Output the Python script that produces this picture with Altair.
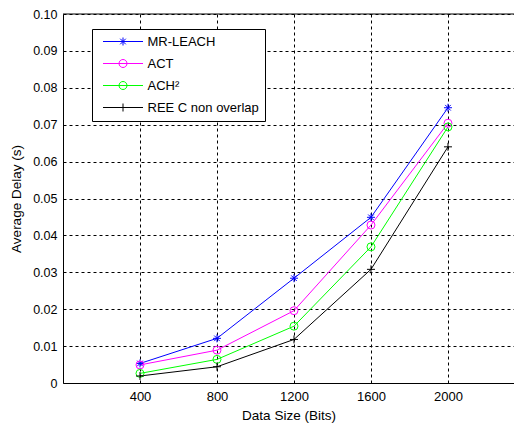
import altair as alt
import pandas as pd

data_size = [400, 800, 1200, 1600, 2000]
mr_leach = [0.0053, 0.0121, 0.0284, 0.0449, 0.0746]
act = [0.0049, 0.0089, 0.0196, 0.0428, 0.0704]
ach2 = [0.0026, 0.0064, 0.0154, 0.0369, 0.0694]
reec = [0.0019, 0.0044, 0.0118, 0.0308, 0.0640]
series_names = ["MR-LEACH", "ACT", "ACH²", "REE C non overlap"]
series_colors = ["#0000ff", "#ff00ff", "#00ff00", "#000000"]
x_ticks = [400, 800, 1200, 1600, 2000]
y_ticks = [0, 0.01, 0.02, 0.03, 0.04, 0.05, 0.06, 0.07, 0.08, 0.09, 0.10]

rows = []
for name, vals in zip(series_names, [mr_leach, act, ach2, reec]):
    for xv, yv in zip(data_size, vals):
        rows.append({"size": xv, "delay": yv, "series": name})
df = pd.DataFrame(rows)

FONT = "Liberation Sans"
W, H = 451, 369

STAR = "M-1,0L1,0M0,-1L0,1M-0.7,-0.7L0.7,0.7M-0.7,0.7L0.7,-0.7"
PLUS = "M-1,0L1,0M0,-1L0,1"
LEG_STAR = "M-5,0L5,0M0,-1L0,1M-0.7,-0.7L0.7,0.7M-0.7,0.7L0.7,-0.7"
LEG_CIRCLE = "M-5,0L5,0M1,0A1,1 0 1,1 -1,0A1,1 0 1,1 1,0"
LEG_PLUS = "M-5,0L5,0M0,-1L0,1"

color_scale = alt.Scale(domain=series_names, range=series_colors)

x_enc = alt.X("size:Q", scale=alt.Scale(domain=[0, 2343], nice=False, zero=False),
              axis=alt.Axis(values=x_ticks, format="d", title="Data Size (Bits)", grid=True,
                            gridDash=[3, 3], gridColor="black", gridOpacity=1, gridWidth=1,
                            tickSize=0, labelPadding=7, domainColor="black", domainWidth=1,
                            labelFont=FONT, labelFontSize=13, labelColor="black",
                            titleFont=FONT, titleFontSize=13.5, titleFontWeight="normal",
                            titleColor="black", titlePadding=5, labelFlush=False))
y_enc = alt.Y("delay:Q", scale=alt.Scale(domain=[0, 0.1], nice=False),
              axis=alt.Axis(values=y_ticks, title="Average Delay (s)", grid=True,
                            gridDash=[3, 3], gridColor="black", gridOpacity=1, gridWidth=1,
                            tickSize=0, labelPadding=6, domainColor="black", domainWidth=1,
                            labelExpr="datum.value == 0 ? '0' : format(datum.value, '.2f')",
                            labelFont=FONT, labelFontSize=12.5, labelColor="black",
                            titleFont=FONT, titleFontSize=13.5, titleFontWeight="normal",
                            titleColor="black", titlePadding=9, labelFlush=False))

base = alt.Chart(df).encode(x=x_enc, y=y_enc)

lines = base.mark_line(strokeWidth=1).encode(
    color=alt.Color("series:N", scale=color_scale, legend=None))

points = base.mark_point(filled=False, size=64, strokeWidth=1, opacity=1).encode(
    color=alt.Color("series:N", scale=color_scale, legend=None),
    shape=alt.Shape("series:N", scale=alt.Scale(domain=series_names,
                                                range=[STAR, "circle", "circle", PLUS]),
                    legend=None))

leg = alt.Legend(orient="none", legendX=29, legendY=15, title=None,
                 strokeColor="black", fillColor="white", padding=6, cornerRadius=0,
                 symbolSize=64, symbolOffset=18.5, labelOffset=18, symbolStrokeWidth=1,
                 symbolOpacity=1, labelFont=FONT, labelFontSize=13, labelColor="black",
                 rowPadding=8)

legend_layer = base.mark_point(filled=False, opacity=0, strokeWidth=1).encode(
    color=alt.Color("series:N", scale=color_scale, legend=leg),
    shape=alt.Shape("series:N", scale=alt.Scale(domain=series_names,
                                                range=[LEG_STAR, LEG_CIRCLE, LEG_CIRCLE, LEG_PLUS]),
                    legend=leg))

frame = alt.Chart(pd.DataFrame({"a": [0]})).mark_rule(color="black", strokeWidth=1).encode(
    x=alt.value(0), x2=alt.value(W), y=alt.value(0))

chart = alt.layer(lines, points, legend_layer, frame).resolve_scale(
    color="independent", shape="independent"
).properties(
    width=W, height=H,
    padding={"left": 55, "top": 6, "right": 0, "bottom": 40},
    autosize=alt.AutoSizeParams(type="none"),
    background="white",
).configure_view(stroke=None)

chart.save("out.html", embed_options={"renderer": "svg", "actions": False})
